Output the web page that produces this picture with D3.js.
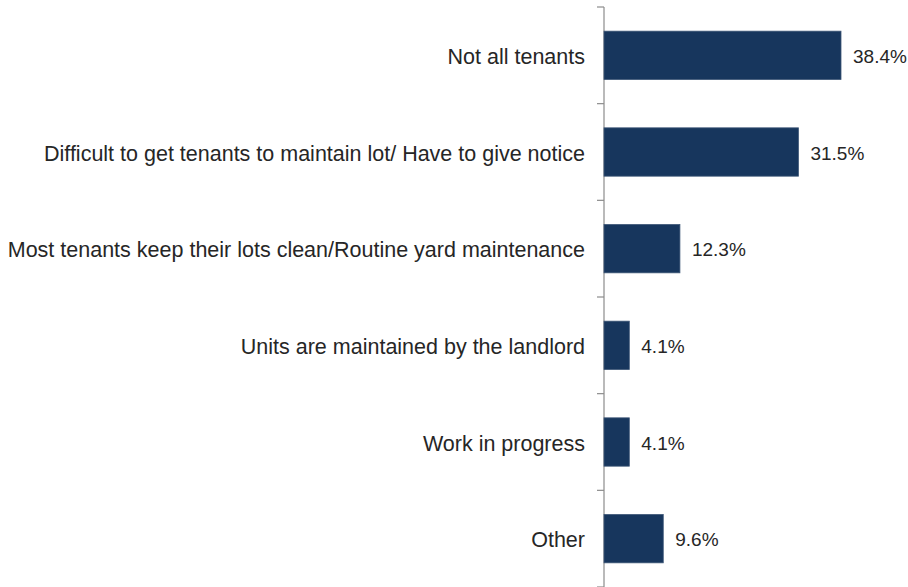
<!DOCTYPE html>
<html>
<head>
<meta charset="utf-8">
<script src="https://cdn.jsdelivr.net/npm/d3@7"></script>
<style>
  html, body { margin: 0; padding: 0; background: #fff; }
  text { font-family: "Liberation Sans", Arial, sans-serif; }
</style>
</head>
<body>
<svg id="chart" width="908" height="587"></svg>
<script>
const categories = [
  "Not all tenants",
  "Difficult to get tenants to maintain lot/ Have to give notice",
  "Most tenants keep their lots clean/Routine yard maintenance",
  "Units are maintained by the landlord",
  "Work in progress",
  "Other"
];
const values = [38.4, 31.5, 12.3, 4.1, 4.1, 9.6];
const valueLabels = ["38.4%", "31.5%", "12.3%", "4.1%", "4.1%", "9.6%"];

const svg = d3.select("#chart");
const margin = { top: 7, left: 604, right: 30, bottom: 0 };

const y = d3.scaleBand()
  .domain(categories)
  .range([margin.top, 587])
  .paddingInner(0.5)
  .paddingOuter(0.25);

const x = d3.scaleLinear()
  .domain([0, 38.4])
  .range([margin.left, 841]);

// category axis with ticks between bands
const axisG = svg.append("g");
axisG.append("line")
  .attr("x1", margin.left).attr("x2", margin.left)
  .attr("y1", y.range()[0]).attr("y2", y.range()[1])
  .attr("stroke", "#8c8c8c").attr("stroke-width", 1.2);

const step = y.step();
const boundaries = d3.range(categories.length + 1).map(i => y.range()[0] + i * step);
axisG.selectAll("line.tick")
  .data(boundaries)
  .join("line")
  .attr("class", "tick")
  .attr("x1", margin.left - 7).attr("x2", margin.left)
  .attr("y1", d => d).attr("y2", d => d)
  .attr("stroke", "#8c8c8c").attr("stroke-width", 1.2);

axisG.selectAll("text.cat")
  .data(categories)
  .join("text")
  .attr("class", "cat")
  .attr("x", margin.left - 19)
  .attr("y", d => y(d) + y.bandwidth() / 2 + 1)
  .attr("dy", "0.35em")
  .attr("text-anchor", "end")
  .attr("font-size", 21.5)
  .attr("fill", "#262626")
  .text(d => d);

// bars
svg.append("g").selectAll("rect")
  .data(values)
  .join("rect")
  .attr("x", x(0))
  .attr("y", (d, i) => y(categories[i]))
  .attr("width", d => x(d) - x(0))
  .attr("height", y.bandwidth())
  .attr("fill", "#17365d")
  .attr("stroke", "#3d5677")
  .attr("stroke-width", 0.8);

// value labels
svg.append("g").selectAll("text")
  .data(values)
  .join("text")
  .attr("x", d => x(d) + 12)
  .attr("y", (d, i) => y(categories[i]) + y.bandwidth() / 2 + 1)
  .attr("dy", "0.35em")
  .attr("font-size", 19)
  .attr("fill", "#262626")
  .text((d, i) => valueLabels[i]);
</script>
</body>
</html>
